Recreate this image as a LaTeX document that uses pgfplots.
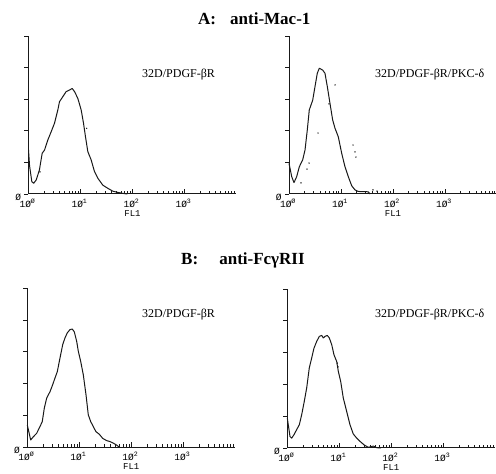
\documentclass[border=0pt]{standalone}
\usepackage{pgfplots}
\pgfplotsset{compat=1.18}
\usepackage{fontspec}
\setmainfont{Liberation Serif}
\newfontfamily\tickfont{Liberation Mono}
\definecolor{ink}{gray}{0.1}
\pgfplotsset{
 flowbase/.style={
  scale only axis, width=208pt, height=158pt,
  xmin=0, xmax=4, ymin=0, ymax=5,
  axis lines=left, axis line style={-, line width=1pt, ink},
  tick style={line width=0.8pt, ink},
  clip=false,
 },
 flowx/.style={flowbase,
  xtick={0,1,2,3},
  xticklabels={1Ø\textsuperscript{Ø},1Ø\textsuperscript{1},1Ø\textsuperscript{2},1Ø\textsuperscript{3}},
  minor xtick={0.301,0.477,0.602,0.699,0.778,0.845,0.903,0.954,
    1.301,1.477,1.602,1.699,1.778,1.845,1.903,1.954,
    2.301,2.477,2.602,2.699,2.778,2.845,2.903,2.954,
    3.301,3.477,3.602,3.699,3.778,3.845,3.903,3.954},
  ytick=\empty,
  tick align=inside,
  major tick length=5pt, minor tick length=2.8pt,
  xticklabel style={font=\tickfont\fontsize{9.5}{10}\selectfont, anchor=north, xshift=-1pt, yshift=-1.5pt},
  xlabel={FL1},
  xlabel style={at={(axis description cs:0.5,0)}, anchor=center, yshift=-19.5pt, font=\tickfont\fontsize{9}{10}\selectfont},
 },
 flowy/.style={flowbase,
  xtick=\empty, minor xtick={},
  ytick={0,1,2,3,4,5}, yticklabels={Ø,,,,,},
  tick align=outside, major tick length=4pt,
  yticklabel style={font=\tickfont\fontsize{9.5}{10}\selectfont, yshift=-3pt},
 },
}
\begin{document}
\begin{tikzpicture}[x=1pt,y=1pt]
\useasboundingbox[fill=white] (0,0) rectangle (496,474);
% titles
\node[anchor=base west, font=\fontsize{17}{20}\selectfont\bfseries, inner sep=0] at (198,449) {A:};
\node[anchor=base west, font=\fontsize{17}{20}\selectfont\bfseries, inner sep=0] at (230,449) {anti-Mac-1};
\node[anchor=base west, font=\fontsize{17}{20}\selectfont\bfseries, inner sep=0] at (181,209) {B:};
\node[anchor=base, font=\fontsize{17}{20}\selectfont\bfseries, inner sep=0] at (262,209) {anti-FcγRII};
% panel labels
\node[anchor=base west, font=\fontsize{12}{14}\selectfont, inner sep=0] at (142,396) {32D/PDGF-βR};
\node[anchor=base west, font=\fontsize{12}{14}\selectfont, inner sep=0] at (375,396) {32D/PDGF-βR/PKC-δ};
\node[anchor=base west, font=\fontsize{12}{14}\selectfont, inner sep=0] at (142,156) {32D/PDGF-βR};
\node[anchor=base west, font=\fontsize{12}{14}\selectfont, inner sep=0] at (375,156) {32D/PDGF-βR/PKC-δ};

% A left
\begin{axis}[flowy, at={(28.5pt,280pt)}, anchor=origin]
\end{axis}
\begin{axis}[flowx, at={(28.5pt,280pt)}, anchor=origin]
\addplot[ink, line width=1pt, line join=round] coordinates {
(0,1.40) (0.02,0.9) (0.064,0.39) (0.10,0.34) (0.147,0.44) (0.21,0.76) (0.263,1.29) (0.308,1.39) (0.372,1.71) (0.436,1.97) (0.5,2.24) (0.564,2.66) (0.596,2.92) (0.66,3.08) (0.724,3.24) (0.788,3.29) (0.84,3.34) (0.885,3.24) (0.948,3.03) (1.013,2.66) (1.058,2.24) (1.096,1.81) (1.141,1.34) (1.205,1.08) (1.269,0.71) (1.333,0.50) (1.429,0.28) (1.525,0.18) (1.621,0.09) (1.718,0.05) (1.813,0.02) (1.9,0)};
\addplot[only marks, mark=*, mark size=0.45pt, ink] coordinates {(1.12,2.08) (0.22,0.70)};
\end{axis}

% A right
\begin{axis}[flowy, at={(289pt,280pt)}, anchor=origin]
\end{axis}
\begin{axis}[flowx, at={(289pt,280pt)}, anchor=origin]
\addplot[ink, line width=1pt, line join=round] coordinates {
(0,0.97) (0.052,0.55) (0.096,0.36) (0.148,0.55) (0.198,0.86) (0.263,1.08) (0.308,1.39) (0.352,2.03) (0.39,2.66) (0.456,2.97) (0.5,3.40) (0.544,3.82) (0.583,3.98) (0.648,3.92) (0.692,3.82) (0.737,3.40) (0.788,2.87) (0.84,2.34) (0.885,2.08) (0.948,1.81) (1.013,1.29) (1.077,0.86) (1.14,0.55) (1.206,0.26) (1.269,0.13) (1.333,0.08) (1.525,0.07) (1.558,0)};
\addplot[only marks, mark=*, mark size=0.45pt, ink] coordinates {
(0.885,3.45) (0.769,2.85) (0.558,1.93) (0.385,0.98) (0.346,0.79) (0.231,0.35) (1.231,1.55) (1.269,1.33) (1.288,1.17) (1.615,0.13) (1.692,0.09)};
\end{axis}

% B left
\begin{axis}[flowy, at={(27.3pt,26.7pt)}, anchor=origin, height=159pt]
\end{axis}
\begin{axis}[flowx, at={(27.3pt,26.7pt)}, anchor=origin, height=159pt]
\addplot[ink, line width=1pt, line join=round] coordinates {
(0,0.70) (0.065,0.23) (0.115,0.33) (0.18,0.44) (0.244,0.65) (0.288,0.81) (0.327,1.23) (0.373,1.55) (0.437,1.75) (0.488,1.97) (0.533,2.18) (0.577,2.38) (0.629,2.81) (0.681,3.23) (0.725,3.44) (0.769,3.60) (0.821,3.70) (0.865,3.72) (0.904,3.63) (0.95,3.33) (0.981,3.02) (1.027,2.70) (1.077,2.28) (1.129,1.65) (1.173,1.02) (1.219,0.81) (1.269,0.65) (1.321,0.49) (1.385,0.41) (1.45,0.28) (1.527,0.21) (1.59,0.18) (1.654,0.13) (1.719,0.07) (1.769,0)};
\end{axis}

% B right
\begin{axis}[flowy, at={(287.3pt,26pt)}, anchor=origin, height=159pt]
\end{axis}
\begin{axis}[flowx, at={(287.3pt,26pt)}, anchor=origin, height=159pt]
\addplot[ink, line width=1pt, line join=round] coordinates {
(0,0.94) (0.052,0.36) (0.085,0.31) (0.129,0.42) (0.181,0.58) (0.231,0.73) (0.277,1.05) (0.327,1.47) (0.373,1.89) (0.423,2.52) (0.469,2.83) (0.513,3.14) (0.565,3.35) (0.615,3.51) (0.662,3.54) (0.692,3.46) (0.725,3.51) (0.769,3.54) (0.808,3.46) (0.854,3.25) (0.898,2.93) (0.95,2.72) (0.981,2.41) (1.027,2.09) (1.077,1.57) (1.142,1.15) (1.206,0.73) (1.269,0.44) (1.335,0.31) (1.398,0.21) (1.475,0.10) (1.558,0.02) (1.654,0.06) (1.719,0.01) (1.8,0)};
\addplot[only marks, mark=*, mark size=0.45pt, ink] coordinates {(0.96,2.67) (0.975,2.55)};
\end{axis}
\end{tikzpicture}
\end{document}
